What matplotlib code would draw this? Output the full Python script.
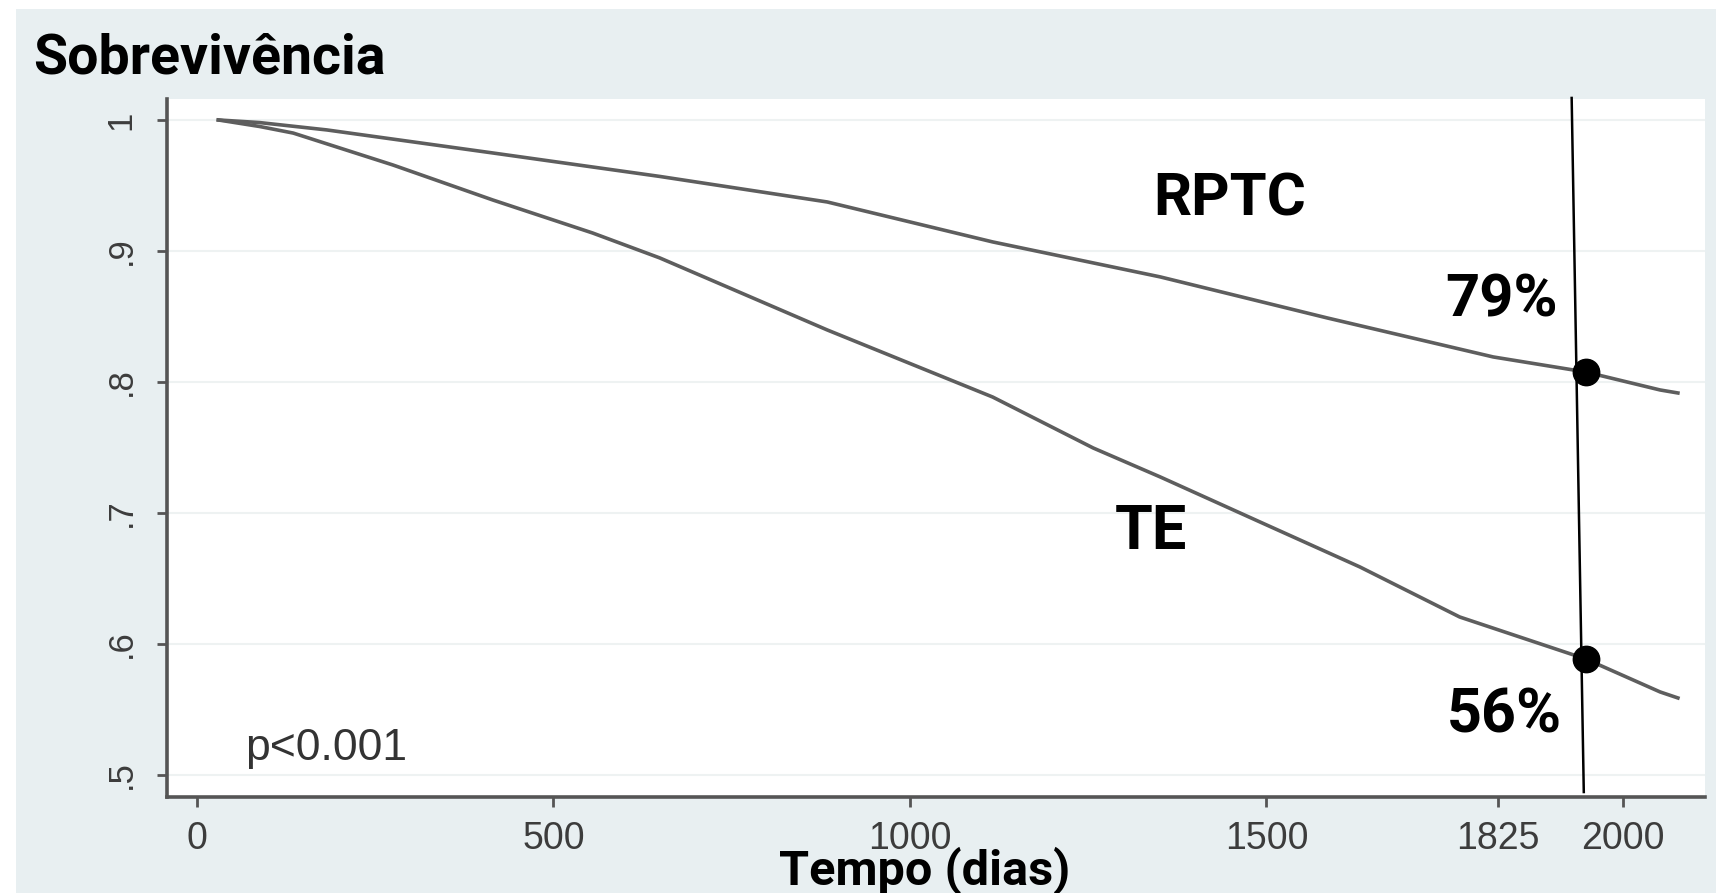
import matplotlib
matplotlib.use('Agg')
import matplotlib.pyplot as plt
from matplotlib.patches import Rectangle

# Kaplan-Meier curves (days, survival)
rptc_days = [30, 88, 182, 415, 649, 884, 1116, 1351, 1585, 1818, 1948, 2052, 2077]
rptc_surv = [1.0, 0.998, 0.9924, 0.9748, 0.9569, 0.9374, 0.9069, 0.8802, 0.8489, 0.8191, 0.8076, 0.7939, 0.7916]

te_days = [30, 88, 135, 275, 415, 555, 649, 884, 1116, 1257, 1351, 1491, 1631, 1771, 1948, 2052, 2077]
te_surv = [1.0, 0.995, 0.990, 0.9656, 0.9389, 0.9137, 0.8947, 0.8397, 0.7885, 0.7496, 0.7275, 0.6931, 0.6588, 0.6206, 0.5885, 0.5634, 0.5588]

# 5-year marks
mark_day = 1948
mark_surv = [0.8076, 0.5885]
mark_text = ['79%', '56%']

xticks = [0, 500, 1000, 1500, 1825, 2000]
yticks = [0.5, 0.6, 0.7, 0.8, 0.9, 1.0]
ylabels = ['.5', '.6', '.7', '.8', '.9', '1']

W, H = 1716, 893
fig = plt.figure(figsize=(W / 100, H / 100), dpi=100, facecolor='white')
fig.patches.append(Rectangle((16 / W, 0), 1, 1 - 9 / H, transform=fig.transFigure,
                             facecolor='#e8eff1', edgecolor='none', zorder=-10))

ax = fig.add_axes([167 / W, 96 / H, 1538 / W, 698 / H])
ax.set_zorder(1)
ax.set_facecolor('white')
ax.set_xlim(-42, 2115)
ax.set_ylim(0.4832, 1.016)

for s in ['top', 'right']:
    ax.spines[s].set_visible(False)
for s in ['left', 'bottom']:
    ax.spines[s].set_color('#555555')
    ax.spines[s].set_linewidth(2.6)

ax.set_yticks(yticks)
ax.set_yticklabels(ylabels, rotation=90, va='center')
ax.set_xticks(xticks)
ax.set_xticklabels([str(t) for t in xticks])
ax.tick_params(axis='both', direction='out', length=7, width=2, color='#555555',
               labelcolor='#3c3c3c')
ax.tick_params(axis='x', labelsize=27, pad=10)
ax.tick_params(axis='y', labelsize=25, pad=14)
for lab in ax.get_xticklabels() + ax.get_yticklabels():
    lab.set_family('Liberation Sans')

ax.grid(axis='y', color='#eef2f2', lw=1.5)
ax.set_axisbelow(True)

ax.plot(rptc_days, rptc_surv, color='#5e5e5e', lw=2.6)
ax.plot(te_days, te_surv, color='#5e5e5e', lw=2.6)

# vertical marker line (slightly tilted as in the original)
ax.plot([1928, 1945], [1.0168, 0.487], color='black', lw=1.8, clip_on=False)
ax.plot([mark_day] * 2, mark_surv, 'o', color='black', ms=19, zorder=5)

bold = dict(family=['Liberation Sans Narrow', 'Roboto', 'Liberation Sans'], weight='bold', color='black')
ax.text(1341, 0.9267, 'RPTC', fontsize=43, ha='left', va='baseline', **bold)
ax.text(1287, 0.6725, 'TE', fontsize=44, ha='left', va='baseline', **bold)
ax.text(1909, 0.8496, mark_text[0], fontsize=43, ha='right', va='baseline', **bold)
ax.text(1914, 0.5328, mark_text[1], fontsize=44, ha='right', va='baseline', **bold)
ax.text(67, 0.5115, 'p<0.001', fontsize=32, family='Liberation Sans', color='#333333',
        ha='left', va='baseline')

fig.text(33 / W, 1 - 74 / H, 'Sobrevivência', fontsize=40, ha='left', va='baseline', **bold)
fig.text(925 / W, 1 - 884 / H, 'Tempo (dias)', fontsize=35, ha='center', va='baseline', **bold)

fig.savefig('out.png', dpi=100, facecolor='white')
